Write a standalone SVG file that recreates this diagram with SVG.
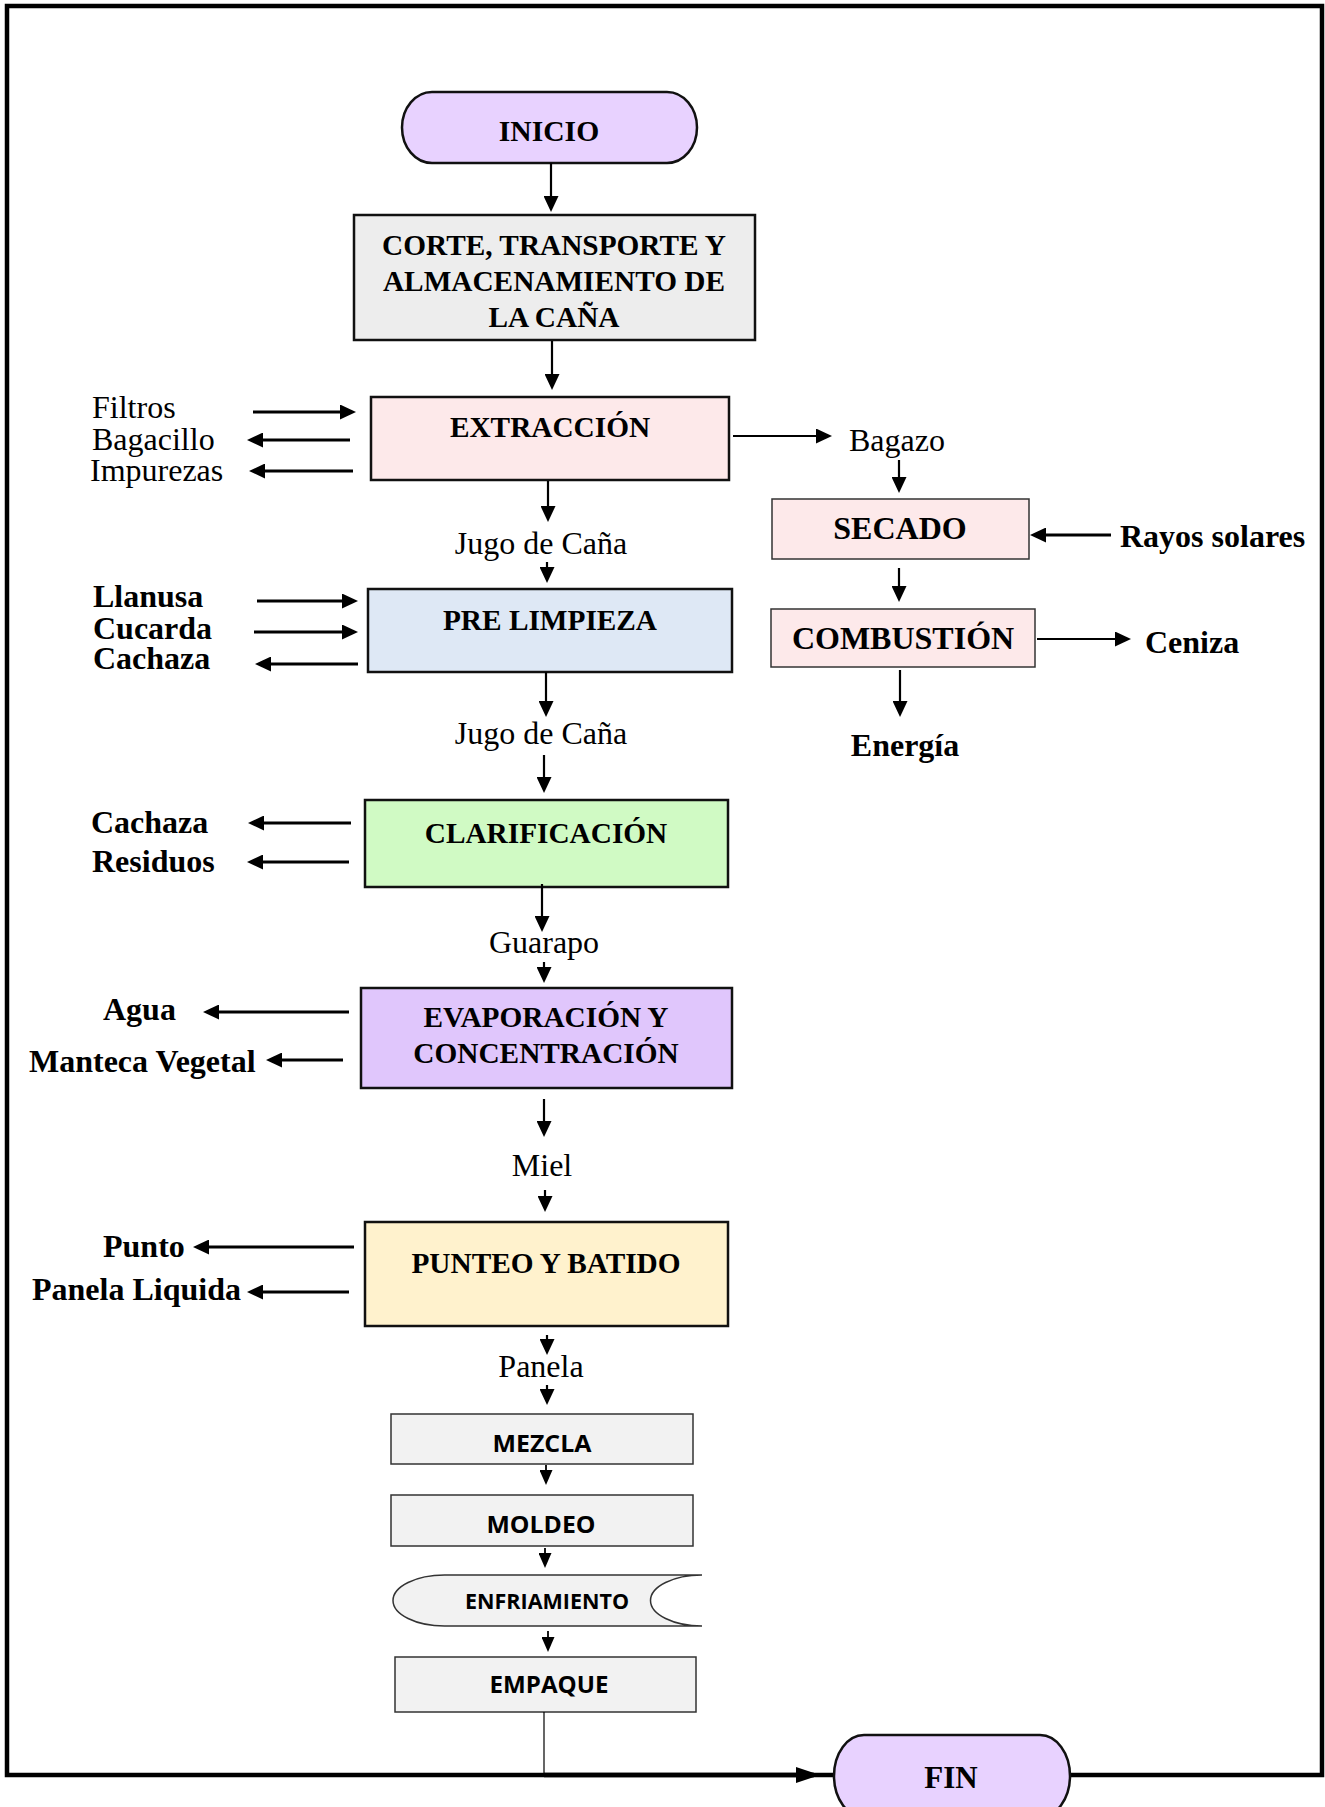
<svg xmlns="http://www.w3.org/2000/svg" width="1325" height="1807" viewBox="0 0 1325 1807">
  <style>
    .serif { font-family: "Liberation Serif", "Times New Roman", serif; fill: #000; }
    .ttl { font-weight: bold; font-size: 29.3px; text-anchor: middle; }
    .ttl32 { font-weight: bold; font-size: 32px; text-anchor: middle; }
    .lbl { font-size: 32px; }
    .lblb { font-size: 32px; font-weight: bold; }
    .mid { text-anchor: middle; }
    .sans { font-family: "Open Sans", "Liberation Sans", sans-serif; font-weight: bold; font-size: 24px; text-anchor: middle; fill: #000; }
    .box { stroke: #111; stroke-width: 2.5; }
    .thin { stroke: #333; stroke-width: 1.5; }
    .flow { stroke: #000; stroke-width: 2.2; fill: none; marker-end: url(#ah); }
    .flows { stroke: #000; stroke-width: 1.8; fill: none; marker-end: url(#ahs); }
    .side { stroke: #000; stroke-width: 3; fill: none; marker-end: url(#ah); }
  </style>
  <defs>
    <marker id="ah" markerUnits="userSpaceOnUse" markerWidth="16" markerHeight="15" refX="10" refY="7.5" orient="auto">
      <path d="M0,0 L16,7.5 L0,15 z" fill="#000"/>
    </marker>
    <marker id="ahs" markerUnits="userSpaceOnUse" markerWidth="15" markerHeight="13" refX="9" refY="6.5" orient="auto">
      <path d="M0,0 L15,6.5 L0,13 z" fill="#000"/>
    </marker>
    <marker id="ahf" markerUnits="userSpaceOnUse" markerWidth="24" markerHeight="16" refX="18" refY="8" orient="auto">
      <path d="M0,0 L24,8 L0,16 z" fill="#000"/>
    </marker>
  </defs>

  <rect width="1325" height="1807" fill="#fff"/>

  <!-- outer frame; its bottom edge runs into FIN -->
  <g id="frame">
    <path d="M834,1775 H7 V6 H1322 V1775 H1068" fill="none" stroke="#000" stroke-width="4.5"/>
  </g>

  <!-- process nodes -->
  <g id="inicio">
    <rect x="402" y="92" width="295" height="71" rx="30" ry="35.5" fill="#E8D2FF" class="box"/>
    <text x="549" y="141" class="serif ttl" style="font-size:29.6px">INICIO</text>
  </g>

  <g id="corte">
    <rect x="354" y="215" width="401" height="125" fill="#EDEDED" class="box"/>
    <text x="554" y="255" class="serif ttl">CORTE, TRANSPORTE Y</text>
    <text x="554" y="291" class="serif ttl">ALMACENAMIENTO DE</text>
    <text x="554" y="327" class="serif ttl">LA CAÑA</text>
  </g>

  <g id="extraccion">
    <rect x="371" y="397" width="358" height="83" fill="#FDE9EA" class="box"/>
    <text x="550" y="437" class="serif ttl">EXTRACCIÓN</text>
  </g>

  <g id="secado">
    <rect x="772" y="499" width="257" height="60" fill="#FDE9EA" class="thin"/>
    <text x="900" y="539" class="serif ttl32">SECADO</text>
  </g>

  <g id="combustion">
    <rect x="771" y="609" width="264" height="58" fill="#FDE9EA" class="thin"/>
    <text x="903" y="649" class="serif ttl32">COMBUSTIÓN</text>
  </g>

  <g id="prelimpieza">
    <rect x="368" y="589" width="364" height="83" fill="#DEE8F5" class="box"/>
    <text x="550" y="630" class="serif ttl">PRE LIMPIEZA</text>
  </g>

  <g id="clarificacion">
    <rect x="365" y="800" width="363" height="87" fill="#D0FAC4" class="box"/>
    <text x="546" y="843" class="serif ttl">CLARIFICACIÓN</text>
  </g>

  <g id="evaporacion">
    <rect x="361" y="988" width="371" height="100" fill="#E0C6FC" class="box"/>
    <text x="546" y="1027" class="serif ttl">EVAPORACIÓN Y</text>
    <text x="546" y="1063" class="serif ttl">CONCENTRACIÓN</text>
  </g>

  <g id="punteo">
    <rect x="365" y="1222" width="363" height="104" fill="#FFF2CD" class="box"/>
    <text x="546" y="1273" class="serif ttl">PUNTEO Y BATIDO</text>
  </g>

  <g id="mezcla">
    <rect x="391" y="1414" width="302" height="50" fill="#F2F2F2" class="thin"/>
    <text x="542" y="1452" class="sans" textLength="99" lengthAdjust="spacingAndGlyphs">MEZCLA</text>
  </g>

  <g id="moldeo">
    <rect x="391" y="1495" width="302" height="51" fill="#F2F2F2" class="thin"/>
    <text x="541" y="1533" class="sans" textLength="109" lengthAdjust="spacingAndGlyphs">MOLDEO</text>
  </g>

  <g id="enfriamiento">
    <path d="M444.5,1575 H702 A51.5,25.5 0 0 0 702,1626 H444.5 A51.5,25.5 0 0 1 444.5,1575 Z" fill="#F2F2F2" class="thin"/>
    <text x="547" y="1609" class="sans" style="font-size:22px" textLength="164" lengthAdjust="spacingAndGlyphs">ENFRIAMIENTO</text>
  </g>

  <g id="empaque">
    <rect x="395" y="1657" width="301" height="55" fill="#F2F2F2" class="thin"/>
    <text x="549" y="1693" class="sans" textLength="119" lengthAdjust="spacingAndGlyphs">EMPAQUE</text>
  </g>

  <g id="fin">
    <rect x="834" y="1735" width="236" height="82" rx="30" ry="41" fill="#E8D2FF" class="box"/>
    <text x="951" y="1788" class="serif" style="font-weight:bold;font-size:31px;text-anchor:middle">FIN</text>
  </g>

  <!-- stream labels -->
  <g id="labels">
    <text x="92" y="418" class="serif lbl">Filtros</text>
    <text x="92" y="450" class="serif lbl">Bagacillo</text>
    <text x="90" y="481" class="serif lbl">Impurezas</text>

    <text x="849" y="451" class="serif lbl">Bagazo</text>
    <text x="1120" y="547" class="serif lblb">Rayos solares</text>
    <text x="1145" y="653" class="serif lblb">Ceniza</text>
    <text x="905" y="756" class="serif lblb mid">Energía</text>

    <text x="541" y="554" class="serif lbl mid">Jugo de Caña</text>
    <text x="93" y="607" class="serif lblb">Llanusa</text>
    <text x="93" y="639" class="serif lblb">Cucarda</text>
    <text x="93" y="669" class="serif lblb">Cachaza</text>

    <text x="541" y="744" class="serif lbl mid">Jugo de Caña</text>
    <text x="91" y="833" class="serif lblb">Cachaza</text>
    <text x="92" y="872" class="serif lblb">Residuos</text>

    <text x="544" y="953" class="serif lbl mid">Guarapo</text>
    <text x="103" y="1020" class="serif lblb">Agua</text>
    <text x="29" y="1072" class="serif lblb">Manteca Vegetal</text>

    <text x="542" y="1176" class="serif lbl mid">Miel</text>
    <text x="103" y="1257" class="serif lblb">Punto</text>
    <text x="32" y="1300" class="serif lblb">Panela Liquida</text>

    <text x="541" y="1377" class="serif lbl mid">Panela</text>
  </g>

  <!-- connectors -->
  <g id="connectors">
    <!-- main line -->
    <path class="flow" d="M551,163 V206"/>
    <path class="flow" d="M552,341 V384"/>
    <path class="flow" d="M548,481 V516"/>
    <path class="flow" d="M547,562 V577"/>
    <path class="flow" d="M546,672 V711"/>
    <path class="flow" d="M544,755 V787"/>
    <path class="flow" d="M542,884 V926"/>
    <path class="flow" d="M544,962 V977"/>
    <path class="flow" d="M544,1099 V1131"/>
    <path class="flow" d="M545,1190 V1206"/>
    <path class="flow" d="M547,1335 V1349"/>
    <path class="flow" d="M547,1385 V1399"/>
    <path class="flows" d="M546,1465 V1479"/>
    <path class="flows" d="M545,1548 V1562"/>
    <path class="flows" d="M548,1631 V1646"/>

    <!-- bagasse branch -->
    <path class="flow" d="M733,436 H826"/>
    <path class="flow" d="M899,460 V487"/>
    <path class="flow" d="M899,568 V596"/>
    <path class="side" d="M1111,535 H1036"/>
    <path class="flow" d="M1037,639 H1125"/>
    <path class="flow" d="M900,670 V711"/>

    <!-- side streams -->
    <path class="side" d="M253,412 H350"/>
    <path class="side" d="M350,440 H253"/>
    <path class="side" d="M353,471 H255"/>
    <path class="side" d="M257,601 H352"/>
    <path class="side" d="M254,632 H352"/>
    <path class="side" d="M358,664 H261"/>
    <path class="side" d="M351,823 H254"/>
    <path class="side" d="M349,862 H253"/>
    <path class="side" d="M349,1012 H209"/>
    <path class="side" d="M343,1060 H272"/>
    <path class="side" d="M354,1247 H199"/>
    <path class="side" d="M349,1292 H253"/>

    <!-- packing to end -->
    <path d="M544,1712 V1775" stroke="#000" stroke-width="1.2" fill="none"/>
    <path d="M544,1775 H814" stroke="#000" stroke-width="4.5" fill="none" marker-end="url(#ahf)"/>
  </g>
</svg>
